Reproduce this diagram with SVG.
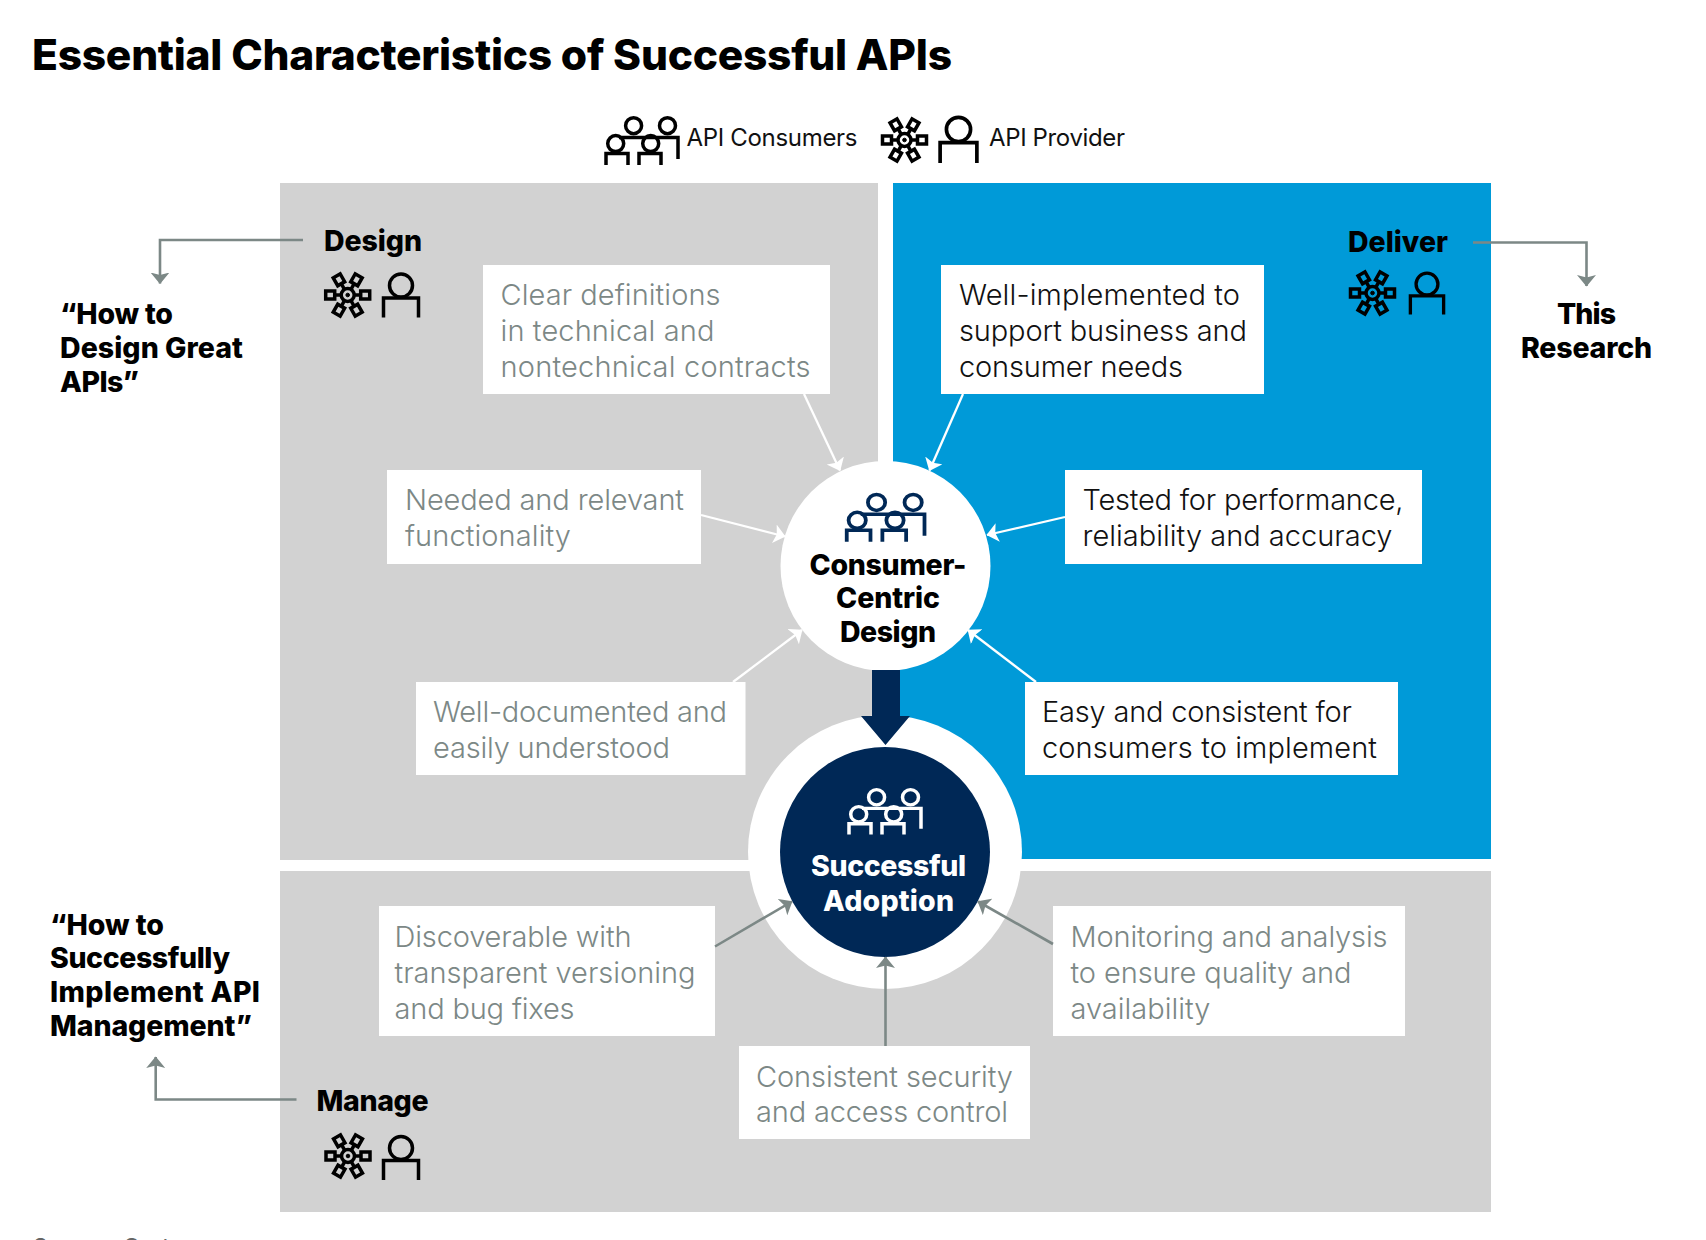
<svg xmlns="http://www.w3.org/2000/svg" width="1706" height="1240" viewBox="0 0 1706 1240">
<style>
text{font-family:Inter,"Liberation Sans",sans-serif}
.h{font-weight:800;fill:#000;font-size:28.5px}
.b{font-weight:300;font-size:29px}
.g{fill:#7c8886}
.d{fill:#111}
.box{fill:#fff}
.ic{fill:none;stroke-width:3.5}
.con{fill:none;stroke-width:2.6}
.l{font-size:24px;font-weight:400;fill:#111}
</style>
<defs>
<marker id="mw" markerUnits="userSpaceOnUse" markerWidth="14" markerHeight="20" refX="11" refY="9.500" orient="auto"><path d="M0 0L11.500 9.500L0 19L2.500 9.500Z" fill="#fff"/></marker>
<marker id="mg" markerUnits="userSpaceOnUse" markerWidth="14" markerHeight="20" refX="11" refY="9.500" orient="auto"><path d="M0 0L11.500 9.500L0 19L2.500 9.500Z" fill="#7c8886"/></marker>
<g id="sp"><path d="M6.500 0H13" class="ic"/><rect x="13" y="-4" width="9" height="8" class="ic"/></g>
<g id="gear">
<circle r="6.500" class="ic"/><circle r="1.800" fill="#000"/>
<use href="#sp"/><use href="#sp" transform="rotate(60)"/><use href="#sp" transform="rotate(120)"/><use href="#sp" transform="rotate(180)"/><use href="#sp" transform="rotate(240)"/><use href="#sp" transform="rotate(300)"/>
</g>
<g id="person"><circle cy="-11" r="11.500" class="ic"/><path d="M-17.500 21V1.500H17.500V21" class="ic"/></g>
<g id="people">
<circle cx="12.700" cy="27.600" r="8" class="ic"/><circle cx="47.700" cy="27.600" r="8" class="ic"/><circle cx="30.600" cy="9.700" r="8" class="ic"/><circle cx="64.500" cy="9.700" r="8" class="ic"/>
<path d="M3 49V37.600H25V49M36 49V37.600H58V49M16 21.500H75V43" class="ic"/>
</g>
</defs>

<g id="panels">
<rect x="280" y="183" width="598" height="677" fill="#d2d2d2"/>
<rect x="893" y="183" width="598" height="676" fill="#009ad8"/>
<rect x="280" y="871" width="1211" height="341" fill="#d2d2d2"/>
</g>

<g id="title"><text x="32" y="70" style="font-weight:800;font-size:42.500px;fill:#000" textLength="920">Essential Characteristics of Successful APIs</text></g>

<g id="legend">
<use href="#people" x="603" y="116" stroke="#000"/>
<text x="686.500" y="145.500" class="l" textLength="171">API Consumers</text>
<use href="#gear" x="904.500" y="140" stroke="#000"/>
<use href="#person" transform="translate(958.500 141) scale(1.05)" stroke="#000"/>
<text x="989" y="145.500" class="l" textLength="136">API Provider</text>
</g>

<g id="side-labels">
<text x="60" y="323.500" class="h" textLength="113">“How to</text>
<text x="60" y="357.500" class="h" textLength="183">Design Great</text>
<text x="60" y="391.500" class="h" textLength="79">APIs”</text>
<text x="1557" y="323.500" class="h" textLength="59">This</text>
<text x="1521" y="357.500" class="h" textLength="131">Research</text>
<text x="50" y="934.500" class="h" textLength="114">“How to</text>
<text x="50" y="968" class="h" textLength="180">Successfully</text>
<text x="50" y="1001.500" class="h" textLength="210">Implement API</text>
<text x="50" y="1035.500" class="h" textLength="202">Management”</text>
</g>

<g id="connectors">
<path d="M303 240H160V283.500" class="con" stroke="#7c8886" marker-end="url(#mg)"/>
<path d="M1473 242.500H1586.500V286" class="con" stroke="#7c8886" marker-end="url(#mg)"/>
<path d="M296.500 1099.500H155.700V1057" class="con" stroke="#7c8886" marker-end="url(#mg)"/>
</g>

<g id="design">
<text x="324" y="251" class="h" textLength="98">Design</text>
<use href="#gear" x="347.700" y="295" stroke="#000"/><use href="#person" x="401" y="296.500" stroke="#000"/>
</g>
<g id="deliver">
<text x="1348" y="251.500" class="h" textLength="100">Deliver</text>
<use href="#gear" x="1372.500" y="293" stroke="#000"/><use href="#person" transform="translate(1427 294.500) scale(.95)" stroke="#000"/>
</g>
<g id="manage">
<text x="316.500" y="1111" class="h" textLength="112">Manage</text>
<use href="#gear" x="348" y="1156" stroke="#000"/><use href="#person" x="401" y="1159" stroke="#000"/>
</g>

<g id="n-clear"><rect x="483" y="265" width="347" height="129" class="box"/>
<text x="500.500" y="305" class="b g" textLength="220">Clear definitions</text><text x="500.500" y="341" class="b g" textLength="214">in technical and</text><text x="500.500" y="377" class="b g" textLength="310">nontechnical contracts</text></g>
<g id="n-well"><rect x="941" y="265" width="323" height="129" class="box"/>
<text x="959" y="305" class="b d" textLength="281">Well-implemented to</text><text x="959" y="341" class="b d" textLength="288">support business and</text><text x="959" y="377" class="b d" textLength="224">consumer needs</text></g>
<g id="n-needed"><rect x="387" y="470" width="314" height="94" class="box"/>
<text x="405" y="509.500" class="b g" textLength="279">Needed and relevant</text><text x="405" y="545.500" class="b g" textLength="166">functionality</text></g>
<g id="n-tested"><rect x="1065" y="470" width="357" height="94" class="box"/>
<text x="1082.500" y="509.500" class="b d" textLength="321">Tested for performance,</text><text x="1082.500" y="545.500" class="b d" textLength="310">reliability and accuracy</text></g>
<g id="n-documented"><rect x="416" y="682" width="329.500" height="93" class="box"/>
<text x="433" y="721.500" class="b g" textLength="294">Well-documented and</text><text x="433" y="757.500" class="b g" textLength="237">easily understood</text></g>
<g id="n-easy"><rect x="1025" y="682" width="373" height="93" class="box"/>
<text x="1042" y="721.500" class="b d" textLength="310">Easy and consistent for</text><text x="1042" y="757.500" class="b d" textLength="335">consumers to implement</text></g>
<g id="n-discover"><rect x="379" y="906" width="336" height="130" class="box"/>
<text x="394.500" y="946.500" class="b g" textLength="237">Discoverable with</text><text x="394.500" y="982.500" class="b g" textLength="301">transparent versioning</text><text x="394.500" y="1018.500" class="b g" textLength="180">and bug fixes</text></g>
<g id="n-monitor"><rect x="1053" y="906" width="352" height="130" class="box"/>
<text x="1070.500" y="946.500" class="b g" textLength="317">Monitoring and analysis</text><text x="1070.500" y="982.500" class="b g" textLength="281">to ensure quality and</text><text x="1070.500" y="1018.500" class="b g" textLength="140">availability</text></g>
<g id="n-security"><rect x="739" y="1046" width="291" height="93" class="box"/>
<text x="756" y="1086.500" class="b g" textLength="257">Consistent security</text><text x="756" y="1122" class="b g" textLength="252">and access control</text></g>

<g id="n-adoption">
<circle cx="885" cy="852" r="137" fill="#fff"/>
<circle cx="885" cy="852" r="105" fill="#002856"/>
<use href="#people" transform="translate(846 788) scale(1 .95)" stroke="#fff"/>
<text x="811" y="876" class="h" style="fill:#fff" textLength="155">Successful</text>
<text x="823" y="910.500" class="h" style="fill:#fff" textLength="131">Adoption</text>
</g>
<g id="n-consumer">
<circle cx="885.500" cy="566" r="105" fill="#fff"/>
<use href="#people" transform="translate(843.500 492.700) scale(1.08 1)" stroke="#002856"/>
<text x="809.500" y="575" class="h" textLength="157">Consumer-</text>
<text x="836" y="608" class="h" textLength="104">Centric</text>
<text x="840" y="642" class="h" textLength="96">Design</text>
</g>
<g id="flows">
<path d="M872 670H900V716H910L885.500 745L861 716H872Z" fill="#002856"/>
<g class="con" stroke="#fff" style="stroke-width:2.300px">
<path d="M804 394L840 470.500" marker-end="url(#mw)"/>
<path d="M963 394L929.500 470.500" marker-end="url(#mw)"/>
<path d="M701 515L785 536.500" marker-end="url(#mw)"/>
<path d="M1065 517L987 535" marker-end="url(#mw)"/>
<path d="M733 682L802 630" marker-end="url(#mw)"/>
<path d="M1036 682L968 630" marker-end="url(#mw)"/>
</g>
<g class="con" stroke="#7c8886">
<path d="M715 946.500L792 901.500" marker-end="url(#mg)"/>
<path d="M1053 944L978 901.500" marker-end="url(#mg)"/>
<path d="M885.500 1046V957" marker-end="url(#mg)"/>
</g>
</g>
<g id="source"><text x="33" y="1254.500" style="font-size:23px;font-weight:400;fill:#666">Source: Gartner</text></g>
</svg>
